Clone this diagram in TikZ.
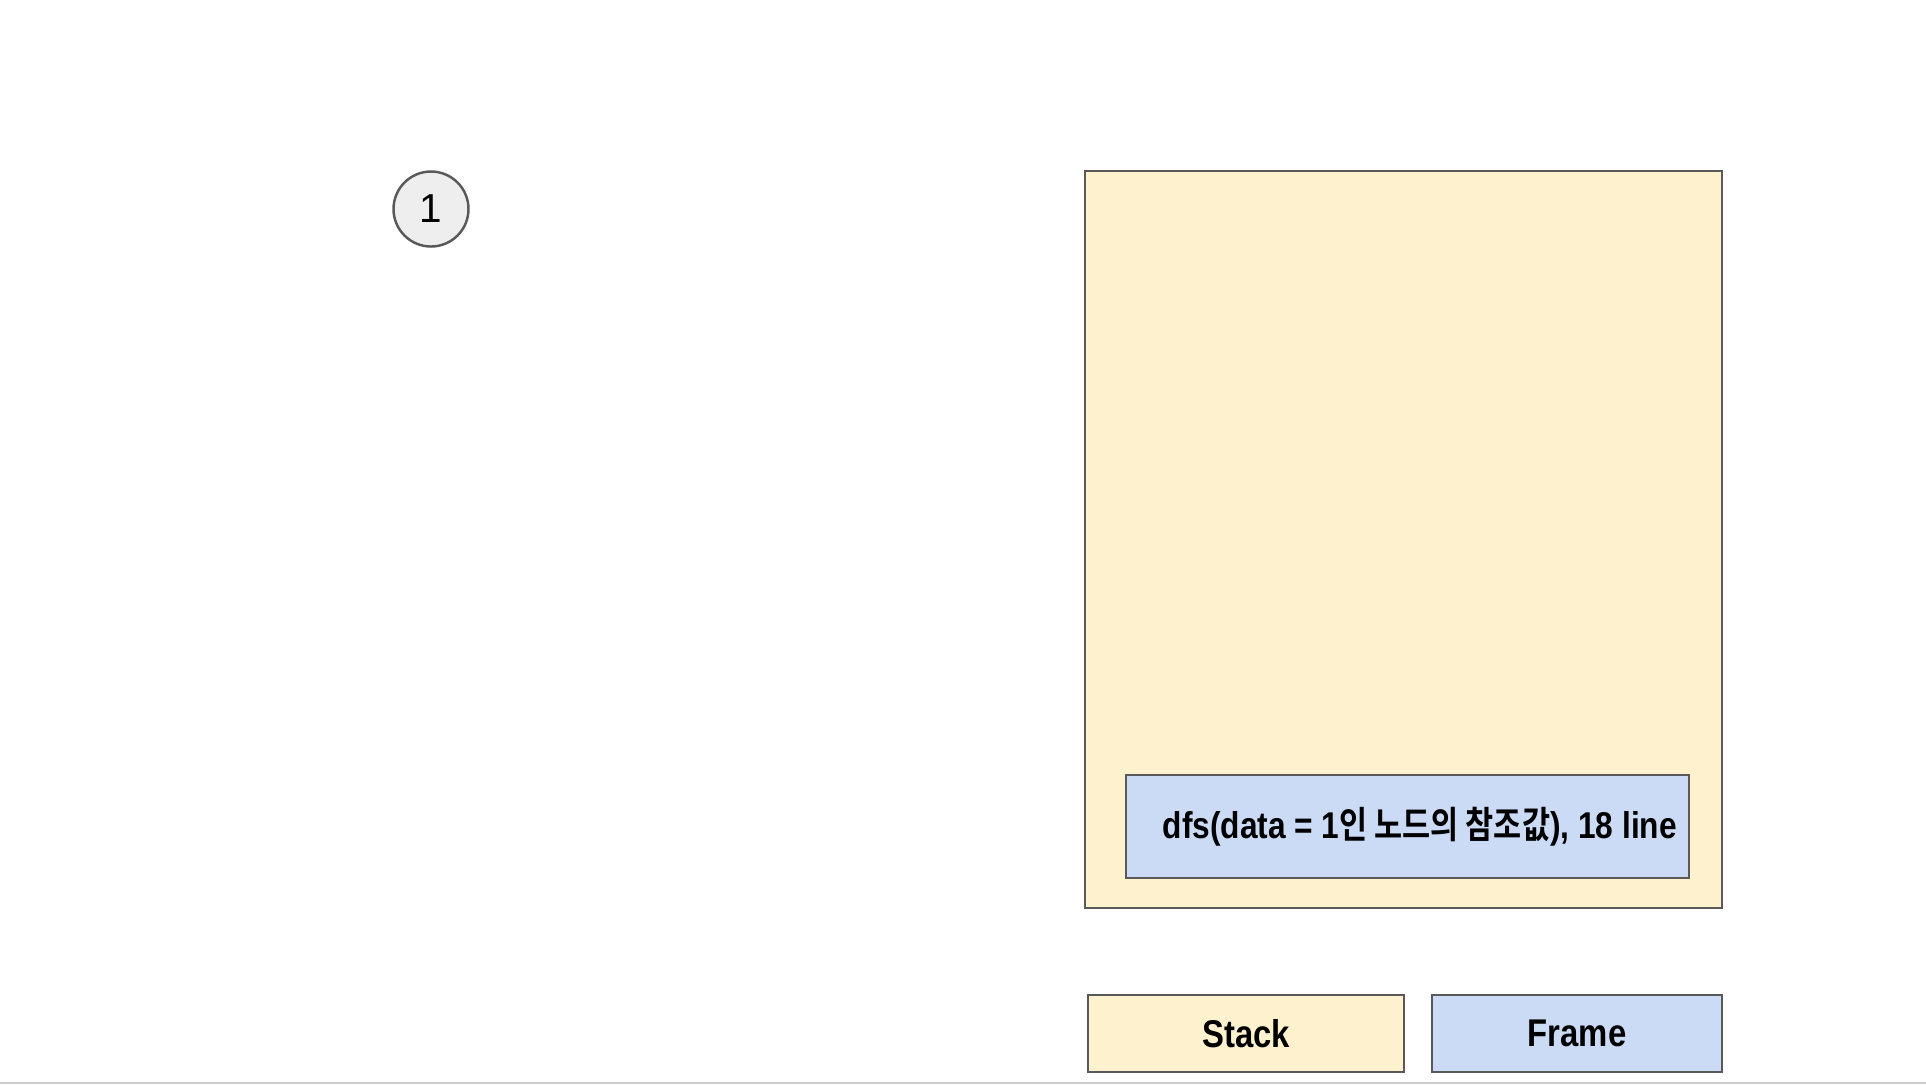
\documentclass[tikz,border=0pt]{standalone}
\usepackage{fontspec}
\setmainfont{Liberation Sans}[FakeStretch=0.85]
\newfontfamily\plainfont{Liberation Sans}
\newfontfamily\krfont{Noto Sans CJK KR}[BoldFont={Noto Sans CJK KR Bold},FakeStretch=0.82]
\newcommand{\kr}[1]{{\krfont #1}}
\definecolor{stackcol}{RGB}{253,241,206}
\definecolor{framecol}{RGB}{203,218,245}
\definecolor{nodecol}{RGB}{238,238,238}
\definecolor{edgecol}{RGB}{89,89,89}
\definecolor{rulecol}{RGB}{204,204,204}
\tikzset{
  box/.style={draw=edgecol, line width=0.7pt, inner sep=0pt},
  legendbox/.style={box, minimum height=0.77cm, font=\fontsize{11}{13}\selectfont\bfseries},
  treenode/.style={circle, draw=edgecol, line width=0.7pt, fill=nodecol, minimum size=0.75cm, inner sep=0pt, font=\plainfont\fontsize{11.5}{13}\selectfont}
}
\begin{document}
\begin{tikzpicture}
\useasboundingbox (0,0) rectangle (19.26,-10.84);
\draw[rulecol, line width=0.6pt] (0,-10.83)--(19.26,-10.83);
% tree
\node[treenode] (n1) at (4.31,-2.09) {1};
% stack with its frames
\node[box, fill=stackcol, minimum width=6.37cm, minimum height=7.37cm] (stack) at (14.035,-5.395) {};
\node[box, fill=framecol, minimum width=5.63cm, minimum height=1.03cm] (frame1) at (14.075,-8.265) {};
\node[anchor=west, inner sep=0pt, font=\fontsize{10.6}{13}\selectfont\bfseries] (frame1text) at (11.62,-8.265)
  {dfs(data = 1\kr{인 노드의 참조값}), 18 line};
% legend
\node[legendbox, fill=stackcol, minimum width=3.16cm] (legstack) at (12.46,-10.335) {Stack};
\node[legendbox, fill=framecol, minimum width=2.90cm] (legframe) at (15.77,-10.335) {Frame};
\end{tikzpicture}
\end{document}
